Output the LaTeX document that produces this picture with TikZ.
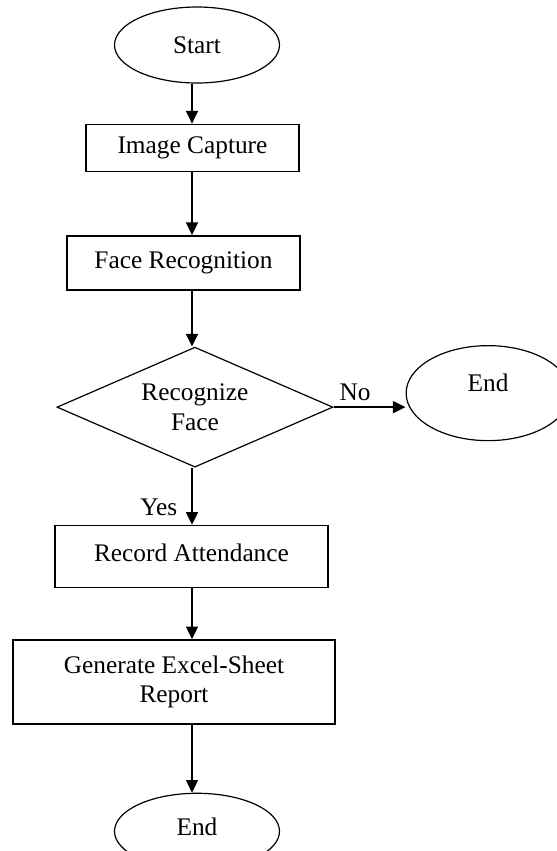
\documentclass[tikz,border=0pt]{standalone}
\usepackage{fontspec}
\setmainfont{Liberation Serif}
\usetikzlibrary{positioning,shapes.geometric,arrows.meta}

\begin{document}
\begin{tikzpicture}
[font=\fontsize{19}{22}\selectfont, line width=1.1pt,
 term/.style={draw,ellipse,line width=0.9pt,inner sep=0pt,minimum width=123.75pt,minimum height=57pt},
 proc/.style={draw,rectangle,inner sep=0pt,align=center},
 test/.style={draw,diamond,line width=0.9pt,aspect=2.3,inner sep=0pt,align=center,
   minimum width=207pt,minimum height=90pt},
 arr/.style={-{Triangle[length=9.5pt,width=9pt]}}]
\useasboundingbox (0,0) rectangle (417.75pt,-638.25pt);
\coordinate (spine) at (144pt,0);
\node[term](start) at (147.75pt,-33.75pt){Start};
\node[proc,minimum width=159.75pt,minimum height=35.25pt,
  below=30pt of start,xshift=-3.4pt](cap){Image Capture};
\node[proc,minimum width=174.75pt,minimum height=40.5pt,
  below=47.25pt of cap,xshift=-6.75pt](face){Face Recognition};
\node[test,below=42pt of face,xshift=8.6pt](rec){Recognize\\Face};
\node[term,minimum width=123pt,minimum height=71.25pt,text depth=15pt,
  right=54pt of rec,yshift=10.5pt](endr){End};
\node[proc,minimum width=204.75pt,minimum height=46.5pt,text depth=6pt,
  below=42.75pt of rec,xshift=-2.6pt](att){Record Attendance};
\node[proc,minimum width=241.5pt,minimum height=63pt,
  below=38.25pt of att,xshift=-13.1pt](rep){Generate Excel-Sheet\\Report};
\node[term,text depth=7pt,below=51pt of rep,xshift=17.25pt](endb){End};
\draw[arr] (start.south -| spine) -- (cap.north -| spine);
\draw[arr] (cap.south -| spine) -- (face.north -| spine);
\draw[arr] (face.south -| spine) -- (rec.north -| spine);
\draw[arr] (rec.east) -- node[above,pos=0.3,inner sep=4pt]{No} (rec.east -| endr.west);
\draw[arr] (rec.south -| spine) -- node[left,pos=0.7,inner sep=10.5pt]{Yes} (att.north -| spine);
\draw[arr] (att.south -| spine) -- (rep.north -| spine);
\draw[arr] (rep.south -| spine) -- (endb.north -| spine);
\end{tikzpicture}
\end{document}
